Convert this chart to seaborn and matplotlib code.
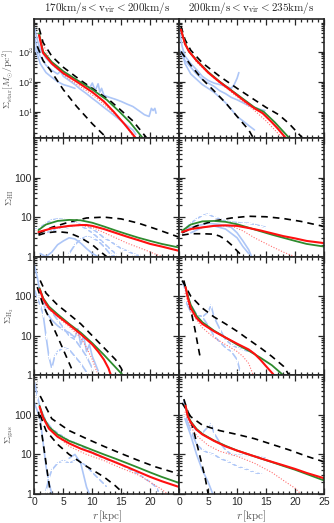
import numpy as np
import pandas as pd
import seaborn as sns
import matplotlib.pyplot as plt
from matplotlib.ticker import FixedLocator, MultipleLocator, LogLocator, NullFormatter

# ---------------- data ----------------
titles = [r"$\mathrm{170km/s} < \mathrm{v_{vir}} < \mathrm{200km/s}$",
          r"$\mathrm{200km/s} < \mathrm{v_{vir}} < \mathrm{235km/s}$"]
ylabels = [r"$\Sigma_{\rm star}[M_{\odot}/{\rm pc}^2]$", r"$\Sigma_{\rm HI}$",
           r"$\Sigma_{\rm H_2}$", r"$\Sigma_{\rm gas}$"]
xtick_vals = [0, 5, 10, 15, 20, 25]
xtick_left = ["0", "5", "10", "15", "20", ""]
xtick_right = ["0", "5", "10", "15", "20", "25"]
ytick_star = ["10$^1$", "10$^2$", "10$^3$"]
ytick_gas = ["1", "10", "100"]

# stellar surface density, left column
star_l_green_r = [0.8, 1.5, 3, 5, 7.8, 10, 12.5, 14.7, 16.5, 18.7]
star_l_green = [4000, 1000, 450, 220, 100, 55, 25, 10, 4.5, 1.35]
star_l_red_r = [0.8, 1.5, 3, 5, 7.3, 10, 12, 13.7, 15.5, 17.5]
star_l_red = [3500, 900, 400, 190, 100, 45, 22, 10, 4, 1.35]
star_l_dot_r = [1, 3, 6, 9, 11, 13, 14.5, 16, 17.2]
star_l_dot = [3000, 380, 120, 50, 26, 12, 6.5, 3, 1.4]
star_l_dash1_r = [0.8, 1.5, 3, 5, 8, 10, 13, 15, 17, 19.4]
star_l_dash1 = [6000, 2000, 700, 300, 110, 60, 24, 11, 5, 1.35]
star_l_dash2_r = [0.5, 1.5, 2.7, 5, 7.3, 10, 12.5]
star_l_dash2 = [1500, 500, 250, 54, 15, 4, 1.35]
star_l_obs1_r = [0, 0.5, 1, 2, 3, 4, 5, 6, 7, 8, 9, 9.5, 10, 10.5, 11, 11.3, 11.6, 12, 13,
                 14, 15, 16, 17, 18, 19, 19.8, 20.2, 20.5, 20.8, 21]
star_l_obs1 = [6000, 2500, 1200, 600, 380, 260, 190, 150, 120, 95, 80, 60, 90, 50, 85, 45, 60,
               35, 30, 26, 22, 18, 15, 11, 8, 7, 13, 11, 13, 9]
star_l_obs2_r = [0, 0.5, 1, 2, 3, 4, 4.5, 5, 6, 7, 8, 9, 10, 11, 12, 13, 14, 15, 16, 17, 17.5]
star_l_obs2 = [3000, 1200, 700, 350, 240, 180, 220, 150, 110, 80, 55, 40, 28, 20, 14, 10, 7,
               5, 3.5, 2.5, 1.8]
star_l_obs3_r = [0, 0.5, 1, 2, 3, 4, 5, 6, 7]
star_l_obs3 = [1500, 800, 400, 200, 140, 100, 80, 70, 60]

# stellar surface density, right column
star_r_green_r = [0.3, 1, 1.7, 3, 5, 7, 9, 11, 13, 14.6, 16.5, 19]
star_r_green = [5400, 1900, 1000, 520, 210, 100, 52, 27, 14, 10, 4.5, 1.35]
star_r_red_r = [0.3, 1, 1.7, 3, 5, 6.9, 9, 11, 13, 14.4, 16, 17, 18.4]
star_r_red = [5400, 1800, 1000, 500, 200, 100, 50, 25, 13, 9, 4.5, 2.8, 1.35]
star_r_dot_r = [1, 3, 6, 9, 11, 13, 15, 16.5, 17.8]
star_r_dot = [1700, 450, 130, 45, 22, 11, 5, 2.5, 1.35]
star_r_dash1_r = [0.3, 1, 2, 4, 7, 10, 13, 15, 17.2, 19, 21.3]
star_r_dash1 = [7000, 2500, 1100, 420, 150, 60, 25, 14, 8, 4, 1.35]
star_r_dash2_r = [0.3, 2, 4, 6, 8, 10, 12, 12.8]
star_r_dash2 = [1000, 350, 120, 50, 20, 7, 2.5, 1.35]
star_r_obs1_r = [0, 0.5, 1, 2, 3, 4, 5, 6, 7, 8, 9, 9.5, 10, 10.3]
star_r_obs1 = [5000, 1500, 700, 400, 250, 150, 110, 90, 80, 70, 60, 80, 130, 200]
star_r_obs2_r = [0, 0.5, 1, 2, 3, 4, 5, 6, 7, 8, 9, 10, 11, 12, 13, 14, 14.8]
star_r_obs2 = [1200, 800, 500, 300, 180, 120, 90, 70, 50, 40, 30, 25, 20, 16, 14, 12, 11]
star_r_obs3_r = [0.5, 1, 2, 3, 4, 5, 6, 7, 8, 9, 10, 11, 12, 13]
star_r_obs3 = [1000, 400, 180, 120, 80, 60, 45, 30, 20, 12, 7, 5, 3.5, 2.5]

# HI, left column
hi_l_green_r = [0.7, 2, 4, 6, 8, 10, 12, 14, 16, 18, 20, 22, 25]
hi_l_green = [4.7, 6.5, 8, 8.5, 8.3, 7.2, 5.8, 4.6, 3.7, 3, 2.5, 2.1, 1.7]
hi_l_red_r = [0.7, 3, 6, 8, 9, 10, 12, 14, 16, 18, 20, 22, 25]
hi_l_red = [4.2, 5.2, 6, 6.3, 6.3, 6, 5, 4, 3.2, 2.6, 2.1, 1.8, 1.4]
hi_l_dot_r = [0.7, 3, 6, 8, 10, 13, 16, 19, 22]
hi_l_dot = [4.2, 5.2, 6, 6.2, 5.5, 3.5, 2.2, 1.5, 1]
hi_l_dash1_r = [0.7, 3, 6, 9, 12, 15, 18, 21, 25]
hi_l_dash1 = [3.8, 5.5, 7.5, 9.5, 10, 9, 7, 5, 3.1]
hi_l_dash2_r = [0.7, 2, 4, 6, 8, 10, 11.5, 12.5]
hi_l_dash2 = [3.5, 4, 4.3, 4, 3, 2, 1.3, 1]
hi_l_obs1_r = [0, 0.5, 1, 2, 3, 4, 5, 6, 7, 8, 9, 10, 11, 12, 13, 14, 15, 16, 17, 18]
hi_l_obs1 = [5.5, 5, 5.5, 7, 8.5, 9, 8.8, 8, 7.2, 6.5, 6, 5, 4, 3, 2.5, 2, 1.6, 1.4, 1.2, 1.05]
hi_l_obs2_r = [1, 2, 3, 4, 5, 6, 7, 8, 9, 10, 11]
hi_l_obs2 = [1.2, 1.0, 1.3, 2, 2.5, 3, 2.8, 2.2, 1.6, 1.2, 1]
hi_l_obs3_r = [2, 3, 4, 5, 6, 7, 8, 9, 10, 11, 12, 13, 14]
hi_l_obs3 = [4, 4.5, 5, 5.2, 5.5, 6, 6, 5, 4, 3, 2.2, 1.6, 1.2]
hi_l_obs4_r = [6, 7, 8, 9, 10, 11, 12, 13, 14]
hi_l_obs4 = [1.2, 2, 2.8, 3.2, 3, 2.5, 1.8, 1.2, 1]

# HI, right column
hi_r_green_r = [0.5, 2, 4, 6, 8, 10, 12, 14, 16, 18, 20, 22, 25]
hi_r_green = [4.5, 6.5, 7.8, 8, 7.6, 6.6, 5.4, 4.4, 3.6, 3, 2.5, 2.1, 1.8]
hi_r_red_r = [0.5, 2, 4, 6, 8, 10, 12, 14, 16, 18, 20, 22, 25]
hi_r_red = [4.2, 5, 5.5, 6, 6.2, 6, 5.3, 4.6, 3.9, 3.3, 2.9, 2.5, 2.2]
hi_r_dot_r = [0.5, 3, 6, 9, 11, 13, 16, 18, 20]
hi_r_dot = [4.2, 5.2, 6, 6, 4.5, 3, 1.8, 1.3, 1]
hi_r_dash1_r = [0.5, 3, 6, 9, 12, 15, 18, 21, 25]
hi_r_dash1 = [4, 6, 8, 9.5, 10.5, 10.2, 9.2, 7.8, 5.8]
hi_r_dash2_r = [0.5, 2, 4, 6, 7, 8, 9, 10, 11]
hi_r_dash2 = [3.5, 3.8, 3.8, 3.7, 3.3, 2.7, 2, 1.4, 1]
hi_r_obs1_r = [0.5, 1, 2, 3, 4, 5, 6, 7, 8, 9, 10, 11, 12, 13, 14, 15]
hi_r_obs1 = [4, 5, 7, 9, 11, 12, 10, 9, 8, 7.5, 7.3, 7, 7, 6.5, 6, 5.5]
hi_r_obs2_r = [1, 3, 5, 7, 9, 10, 11, 12, 12.5]
hi_r_obs2 = [5, 6, 7, 6.5, 5.5, 4, 2.5, 1.5, 1]
hi_r_obs3_r = [2, 4, 6, 8, 10, 11, 12]
hi_r_obs3 = [4, 5.5, 6, 5, 3, 1.8, 1.2]

# H2, left column
h2_l_green_r = [0.9, 1.5, 2.5, 4, 6, 8, 10, 12, 14, 15.3]
h2_l_green = [160, 90, 55, 35, 20, 12, 6.5, 3.3, 1.6, 1]
h2_l_red_r = [0.9, 1.5, 2.5, 4, 6, 8, 10, 11, 12, 12.8, 13.2]
h2_l_red = [150, 85, 50, 32, 19, 11, 6, 4, 2.5, 1.5, 1]
h2_l_dot_r = [1, 2, 4, 6, 8, 9, 10, 10.8]
h2_l_dot = [90, 55, 30, 17, 9, 5, 2.5, 1.2]
h2_l_dash1_r = [1, 2, 4, 6, 8, 10, 12, 14, 15, 15.5]
h2_l_dash1 = [250, 120, 60, 35, 20, 10, 5, 2.5, 1.5, 1]
h2_l_dash2_r = [0.5, 1.5, 2.7, 4.4, 5.5, 6.4]
h2_l_dash2 = [170, 60, 25, 7, 3, 1.5]
h2_l_obs1_r = [0, 0.5, 1, 1.5, 2, 3, 4, 5, 6, 7, 7.5, 8, 8.5, 9, 9.5, 10, 10.5, 11]
h2_l_obs1 = [600, 300, 120, 70, 40, 25, 18, 14, 12, 9, 15, 6, 10, 4, 6, 3, 2, 1.3]
h2_l_obs2_r = [0, 0.5, 1, 1.5, 2, 2.5, 3, 3.5, 4, 5, 6, 7, 8, 9]
h2_l_obs2 = [150, 90, 60, 35, 10, 3, 1.5, 3, 4, 5, 4.5, 3, 2, 1.2]
h2_l_obs3_r = [1, 2, 3, 4, 5, 6, 7, 8, 9, 10]
h2_l_obs3 = [100, 60, 40, 25, 16, 10, 8, 5, 3, 1.5]

# H2, right column
h2_r_green_r = [1.1, 1.5, 2, 3, 4, 6, 8, 10, 12, 14, 16, 18]
h2_r_green = [170, 100, 60, 32, 22, 13.5, 9, 6, 4.2, 2.8, 1.8, 1]
h2_r_red_r = [1.1, 1.5, 2, 3, 4, 6, 8, 10, 12, 13, 14, 15, 16.4]
h2_r_red = [170, 90, 50, 28, 20, 13, 9, 6.3, 4.5, 3.5, 2.5, 1.7, 1]
h2_r_dot_r = [1, 2, 4, 6, 8, 10, 11, 12, 12.5, 12.8]
h2_r_dot = [120, 40, 16, 9, 6, 4, 3, 2, 1.3, 1]
h2_r_dash1_r = [0.5, 2, 4, 6, 8, 10, 12, 14, 16, 18, 19]
h2_r_dash1 = [250, 100, 50, 30, 20, 13, 8, 5, 3, 1.7, 1]
h2_r_dash2_r = [0.8, 1.5, 2, 2.7, 3.2, 3.7]
h2_r_dash2 = [250, 100, 45, 15, 6, 2.5]
h2_r_obs1_r = [0.5, 1, 2, 3, 4, 5, 5.5, 6, 7, 8, 9, 10, 11, 12, 12.5]
h2_r_obs1 = [250, 150, 60, 35, 30, 40, 60, 30, 15, 8, 6, 5, 4.5, 4, 4.5]
h2_r_obs2_r = [1, 2, 3, 4, 5, 6, 7, 8, 9, 10, 10.5]
h2_r_obs2 = [80, 40, 35, 30, 18, 10, 7, 5, 4, 2.5, 1.3]

# gas, left column
gas_l_green_r = [0.9, 1.5, 2.5, 4, 6, 8, 10, 12, 14, 16, 18, 20, 22, 25]
gas_l_green = [170, 90, 50, 32, 22, 17, 13, 10, 7.8, 6, 4.6, 3.5, 2.7, 1.9]
gas_l_red_r = [0.9, 1.5, 2.5, 4, 6, 8, 10, 12, 14, 16, 18, 20, 22, 25]
gas_l_red = [160, 85, 45, 28, 19, 14, 11, 8.3, 6.3, 4.8, 3.6, 2.7, 2.1, 1.5]
gas_l_dot_r = [1, 3, 6, 9, 12, 15, 18, 20, 22, 23]
gas_l_dot = [120, 38, 16, 10, 7, 4.5, 3, 2, 1.3, 1]
gas_l_dash1_r = [1, 3, 6, 9, 12, 15, 18, 21, 25]
gas_l_dash1 = [300, 80, 40, 25, 16, 10.5, 7, 4.8, 3.2]
gas_l_dash2_r = [1, 2, 4, 6, 9, 12, 14, 15.5]
gas_l_dash2 = [100, 40, 18, 10, 5, 2.7, 1.6, 1]
gas_l_dash3_r = [0.7, 1.2, 1.8, 2.3, 2.8]
gas_l_dash3 = [120, 40, 10, 3, 1]
gas_l_obs1_r = [0, 0.5, 1, 2, 3, 4, 5, 6, 7, 8, 9, 10, 11, 12, 13, 14, 15, 16, 17, 18,
                19, 20, 21, 21.5]
gas_l_obs1 = [700, 300, 150, 70, 45, 35, 28, 22, 20, 16, 14, 11, 9, 8, 7, 6.5, 5.5, 4.5, 3.8,
              3.2, 2.5, 2, 1.5, 1.1]
gas_l_obs2_r = [0, 1, 1.5, 2, 2.5, 3]
gas_l_obs2 = [200, 80, 20, 5, 2, 1]
gas_l_obs3_r = [2, 2.5, 3, 4, 5, 6, 7, 8, 9, 10, 11, 12, 12.5]
gas_l_obs3 = [1.2, 2.5, 4, 6, 7, 6, 7, 6.5, 5, 3.5, 2.5, 1.8, 1.5]
gas_l_obs4_r = [6, 7, 8, 8.5, 9, 9.5]
gas_l_obs4 = [8, 10, 6, 3, 1.5, 1]

# gas, right column
gas_r_green_r = [1.1, 1.5, 2, 3, 4, 6, 8, 10, 12, 14, 16, 18, 20, 22, 25]
gas_r_green = [170, 95, 68, 44, 33, 22.5, 16.5, 12.5, 10, 8, 6.4, 5.1, 4.1, 3.2, 2.2]
gas_r_red_r = [1.1, 1.5, 2, 3, 4, 6, 8, 10, 12, 14, 16, 18, 20, 22, 25]
gas_r_red = [170, 90, 65, 42, 32, 22, 16, 12.5, 10, 8, 6.5, 5.3, 4.3, 3.4, 2.5]
gas_r_dot_r = [1, 2, 3, 5, 7, 10, 13, 16, 18, 20, 21]
gas_r_dot = [120, 50, 30, 17, 12, 9, 6, 3.5, 2.2, 1.4, 1]
gas_r_dash1_r = [0.5, 2, 4, 7, 10, 13, 16, 19, 22, 25]
gas_r_dash1 = [200, 90, 55, 40, 32, 25, 18, 13, 9, 6.5]
gas_r_dash2_r = [0.8, 1.5, 2.5, 3.5, 4.5, 5]
gas_r_dash2 = [250, 120, 40, 10, 2.5, 1]
gas_r_obs1_r = [0.5, 1, 2, 3, 4, 5, 5.5, 6, 7, 8, 9, 10, 11, 12, 13, 14, 15]
gas_r_obs1 = [250, 180, 60, 40, 35, 50, 60, 35, 20, 13, 10, 9.5, 9.5, 9.5, 9, 8.5, 8]
gas_r_obs2_r = [1, 2, 3, 4, 5, 6, 7, 8, 9, 10, 11, 12, 13, 14, 14.5]
gas_r_obs2 = [100, 40, 18, 13, 11, 10, 8, 7, 6, 5, 4.5, 4, 3.5, 3.2, 3]
gas_r_obs3_r = [1, 2, 3, 4, 5, 5.8]
gas_r_obs3 = [80, 30, 10, 4, 2, 1]

# ---------------- assemble panels ----------------
panels = [
    [[(star_l_obs1_r, star_l_obs1, "obs"), (star_l_obs2_r, star_l_obs2, "obs"),
      (star_l_obs3_r, star_l_obs3, "obs"), (star_l_dot_r, star_l_dot, "dot"),
      (star_l_dash1_r, star_l_dash1, "dash"), (star_l_dash2_r, star_l_dash2, "dash"),
      (star_l_green_r, star_l_green, "green"), (star_l_red_r, star_l_red, "red")],
     [(star_r_obs1_r, star_r_obs1, "obs"), (star_r_obs2_r, star_r_obs2, "obs"),
      (star_r_obs3_r, star_r_obs3, "obs"), (star_r_dot_r, star_r_dot, "dot"),
      (star_r_dash1_r, star_r_dash1, "dash"), (star_r_dash2_r, star_r_dash2, "dash"),
      (star_r_green_r, star_r_green, "green"), (star_r_red_r, star_r_red, "red")]],
    [[(hi_l_obs1_r, hi_l_obs1, "obs+"), (hi_l_obs2_r, hi_l_obs2, "obs"),
      (hi_l_obs3_r, hi_l_obs3, "obs+"), (hi_l_obs4_r, hi_l_obs4, "obs+"),
      (hi_l_dot_r, hi_l_dot, "dot"), (hi_l_dash1_r, hi_l_dash1, "dash"),
      (hi_l_dash2_r, hi_l_dash2, "dash"), (hi_l_green_r, hi_l_green, "green"),
      (hi_l_red_r, hi_l_red, "red")],
     [(hi_r_obs1_r, hi_r_obs1, "obs+"), (hi_r_obs2_r, hi_r_obs2, "obs"),
      (hi_r_obs3_r, hi_r_obs3, "obs"), (hi_r_dot_r, hi_r_dot, "dot"),
      (hi_r_dash1_r, hi_r_dash1, "dash"), (hi_r_dash2_r, hi_r_dash2, "dash"),
      (hi_r_green_r, hi_r_green, "green"), (hi_r_red_r, hi_r_red, "red")]],
    [[(h2_l_obs1_r, h2_l_obs1, "obs"), (h2_l_obs2_r, h2_l_obs2, "obs+"),
      (h2_l_obs3_r, h2_l_obs3, "obs+"), (h2_l_dot_r, h2_l_dot, "dot"),
      (h2_l_dash1_r, h2_l_dash1, "dash"), (h2_l_dash2_r, h2_l_dash2, "dash"),
      (h2_l_green_r, h2_l_green, "green"), (h2_l_red_r, h2_l_red, "red")],
     [(h2_r_obs1_r, h2_r_obs1, "obs+"), (h2_r_obs2_r, h2_r_obs2, "obs+"),
      (h2_r_dot_r, h2_r_dot, "dot"), (h2_r_dash1_r, h2_r_dash1, "dash"),
      (h2_r_dash2_r, h2_r_dash2, "dash"), (h2_r_green_r, h2_r_green, "green"),
      (h2_r_red_r, h2_r_red, "red")]],
    [[(gas_l_obs1_r, gas_l_obs1, "obs+"), (gas_l_obs2_r, gas_l_obs2, "obs"),
      (gas_l_obs3_r, gas_l_obs3, "obs+"), (gas_l_obs4_r, gas_l_obs4, "obs"),
      (gas_l_dot_r, gas_l_dot, "dot"), (gas_l_dash1_r, gas_l_dash1, "dash"),
      (gas_l_dash2_r, gas_l_dash2, "dash"), (gas_l_dash3_r, gas_l_dash3, "dash"),
      (gas_l_green_r, gas_l_green, "green"), (gas_l_red_r, gas_l_red, "red")],
     [(gas_r_obs1_r, gas_r_obs1, "obs+"), (gas_r_obs2_r, gas_r_obs2, "obs+"),
      (gas_r_obs3_r, gas_r_obs3, "obs"), (gas_r_dot_r, gas_r_dot, "dot"),
      (gas_r_dash1_r, gas_r_dash1, "dash"), (gas_r_dash2_r, gas_r_dash2, "dash"),
      (gas_r_green_r, gas_r_green, "green"), (gas_r_red_r, gas_r_red, "red")]],
]

styles = {
    "obs": dict(color="#adc6f7", lw=1.2),
    "obs+": dict(color="#adc6f7", lw=1.2, marker="+", markersize=4, mew=0.8),
    "dot": dict(color="#ff7070", lw=0.8, ls=(0, (1, 1.5))),
    "dash": dict(color="black", lw=1.2, ls=(0, (4, 3))),
    "green": dict(color="#2e8b2e", lw=1.3),
    "red": dict(color="#ff1010", lw=1.5),
}

sns.set_style("ticks")
plt.rcParams["mathtext.fontset"] = "cm"
plt.rcParams["font.family"] = ["Liberation Sans", "DejaVu Sans"]

fig, axes = plt.subplots(4, 2, figsize=(3.34, 5.23), dpi=100)
fig.subplots_adjust(left=0.103, right=0.970, top=0.963, bottom=0.0555,
                    hspace=0, wspace=0)

ylims = [(1.35, 11700), (1, 1000), (1, 1000), (1, 1000)]

for i in range(4):
    for j in range(2):
        ax = axes[i, j]
        for rr, ss, kind in panels[i][j]:
            df = pd.DataFrame({"r": rr, "s": ss})
            sns.lineplot(data=df, x="r", y="s", ax=ax, sort=False,
                         estimator=None, **styles[kind])
        ax.set_yscale("log")
        ax.set_xlim(0, 25)
        ax.set_ylim(*ylims[i])
        ax.set_xlabel("")
        ax.set_ylabel("")
        ax.set_xticks(xtick_vals)
        ax.xaxis.set_minor_locator(MultipleLocator(1))
        ax.yaxis.set_major_locator(FixedLocator([10, 100, 1000] if i == 0 else [1, 10, 100]))
        ax.yaxis.set_minor_locator(LogLocator(base=10, subs=np.arange(2, 10)))
        ax.yaxis.set_minor_formatter(NullFormatter())
        ax.set_yticklabels(ytick_star if i == 0 else ytick_gas)
        ax.tick_params(which="both", direction="in", top=True, right=True,
                       labelsize=7.5, width=0.9, pad=2)
        if i == 0:
            ax.tick_params(axis="y", labelsize=6.5, pad=1)
        ax.tick_params(which="major", length=4)
        ax.tick_params(which="minor", length=2)
        for sp in ax.spines.values():
            sp.set_linewidth(1.2)
        if i == 3:
            ax.set_xticklabels(xtick_left if j == 0 else xtick_right)
            ax.set_xlabel(r"$r\,[\rm kpc]$", fontsize=8, color="#555555", labelpad=1)
        else:
            ax.tick_params(labelbottom=False)
        if j == 1:
            ax.tick_params(labelleft=False)
        else:
            ax.set_ylabel(ylabels[i], fontsize=7, color="#555555")
            ax.yaxis.set_label_coords(-0.125, 0.5)
        if i == 0:
            ax.set_title(titles[j], fontsize=8, pad=6)

fig.savefig("out.png", dpi=100)
